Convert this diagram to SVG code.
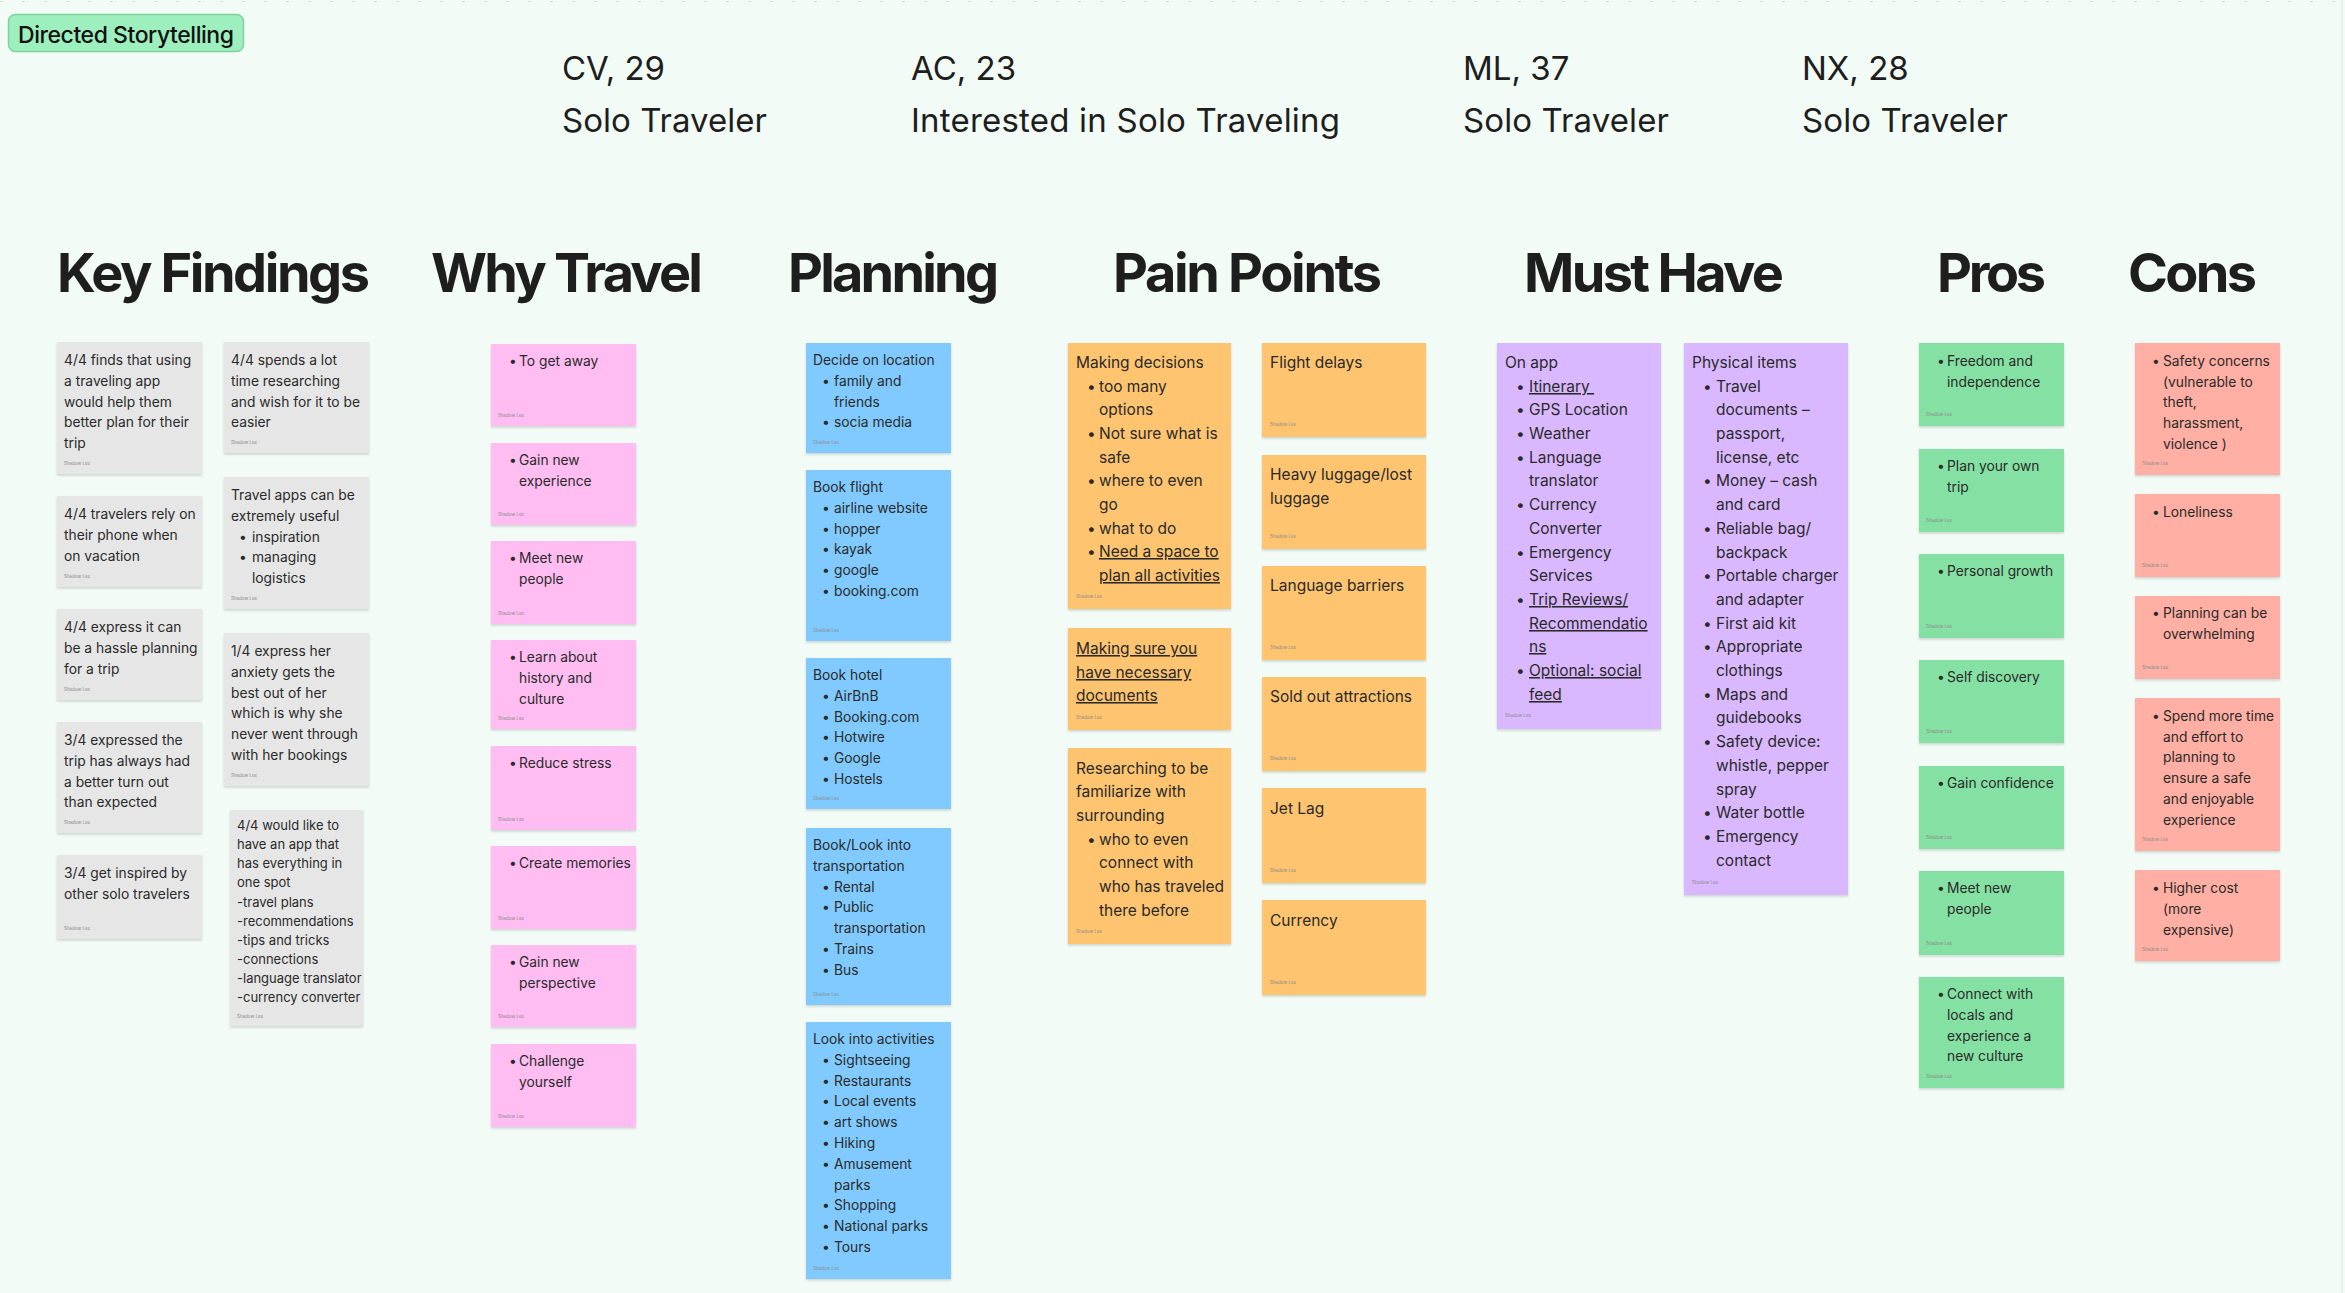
<svg xmlns="http://www.w3.org/2000/svg" width="2345" height="1293" viewBox="0 0 2345 1293">
<defs>
<filter id="sh" x="-10%" y="-10%" width="120%" height="130%"><feDropShadow dx="0" dy="1.5" stdDeviation="1.2" flood-color="#000" flood-opacity="0.16"/></filter>
<style>
.t{font-family:Inter,'Liberation Sans',sans-serif;font-size:13.8px;fill:#2a2a2a}
.m{font-size:15.5px}
.s{font-size:13px}
.u{text-decoration:underline}
.ft{font-family:Inter,'Liberation Sans',sans-serif;font-size:4.5px;fill:#8a8a8a}
.h{font-family:Inter,'Liberation Sans',sans-serif;font-weight:700;font-size:54px;fill:#1e1e1e}
.p{font-family:Inter,'Liberation Sans',sans-serif;font-size:33px;fill:#1e1e1e}
.note rect{filter:url(#sh)}
.gray{fill:#e6e6e6}.pink{fill:#ffbdf2}.blue{fill:#80caff}.orange{fill:#ffc470}.violet{fill:#d9b8ff}.green{fill:#85e0a3}.red{fill:#ffafa3}
</style>
</defs>
<rect width="2345" height="1293" fill="#f2fbf6"/>
<line x1="0" y1="1.5" x2="2345" y2="1.5" stroke="#cfd8d3" stroke-width="1" stroke-dasharray="3 19"/>
<line x1="2342" y1="0" x2="2342" y2="1293" stroke="#dde5e0" stroke-width="1"/>

<g id="label">
<rect x="8.5" y="14.5" width="235" height="37" rx="7" fill="#9def bd" style="fill:#9defbd" stroke="#80d19f" stroke-width="1.5"/>
<text x="18" y="43" font-family="Inter,'Liberation Sans',sans-serif" font-size="23" font-weight="500" fill="#111" textLength="216">Directed Storytelling</text>
</g>

<g id="personas">
<text class="p" x="562" y="80">CV, 29</text>
<text class="p" x="562" y="132" textLength="205">Solo Traveler</text>
<text class="p" x="911" y="80">AC, 23</text>
<text class="p" x="911" y="132" textLength="429">Interested in Solo Traveling</text>
<text class="p" x="1463" y="80">ML, 37</text>
<text class="p" x="1463" y="132" textLength="206">Solo Traveler</text>
<text class="p" x="1802" y="80">NX, 28</text>
<text class="p" x="1802" y="132" textLength="206">Solo Traveler</text>
</g>

<g id="headings">
<text class="h" x="57" y="292" textLength="313">Key Findings</text>
<text class="h" x="431" y="292" textLength="272">Why Travel</text>
<text class="h" x="788" y="292" textLength="211">Planning</text>
<text class="h" x="1113" y="292" textLength="269">Pain Points</text>
<text class="h" x="1524" y="292" textLength="260">Must Have</text>
<text class="h" x="1937" y="292" textLength="109">Pros</text>
<text class="h" x="2128" y="292" textLength="129">Cons</text>
</g>

<!-- Key Findings -->
<g id="kf1" class="note"><rect class="gray" x="57" y="342" width="145" height="132"/>
<text class="t"><tspan x="64" y="365">4/4 finds that using</tspan><tspan x="64" y="386">a traveling app</tspan><tspan x="64" y="407">would help them</tspan><tspan x="64" y="427">better plan for their</tspan><tspan x="64" y="448">trip</tspan></text>
<text class="ft" x="64" y="465">Shadow Lee</text></g>
<g id="kf2" class="note"><rect class="gray" x="57" y="496" width="145" height="91"/>
<text class="t"><tspan x="64" y="519">4/4 travelers rely on</tspan><tspan x="64" y="540">their phone when</tspan><tspan x="64" y="561">on vacation</tspan></text>
<text class="ft" x="64" y="578">Shadow Lee</text></g>
<g id="kf3" class="note"><rect class="gray" x="57" y="609" width="145" height="91"/>
<text class="t"><tspan x="64" y="632">4/4 express it can</tspan><tspan x="64" y="653">be a hassle planning</tspan><tspan x="64" y="674">for a trip</tspan></text>
<text class="ft" x="64" y="691">Shadow Lee</text></g>
<g id="kf4" class="note"><rect class="gray" x="57" y="722" width="145" height="111"/>
<text class="t"><tspan x="64" y="745">3/4 expressed the</tspan><tspan x="64" y="766">trip has always had</tspan><tspan x="64" y="787">a better turn out</tspan><tspan x="64" y="807">than expected</tspan></text>
<text class="ft" x="64" y="824">Shadow Lee</text></g>
<g id="kf5" class="note"><rect class="gray" x="57" y="855" width="145" height="84"/>
<text class="t"><tspan x="64" y="878">3/4 get inspired by</tspan><tspan x="64" y="899">other solo travelers</tspan></text>
<text class="ft" x="64" y="930">Shadow Lee</text></g>
<g id="kf6" class="note"><rect class="gray" x="224" y="342" width="145" height="111"/>
<text class="t"><tspan x="231" y="365">4/4 spends a lot</tspan><tspan x="231" y="386">time researching</tspan><tspan x="231" y="407">and wish for it to be</tspan><tspan x="231" y="427">easier</tspan></text>
<text class="ft" x="231" y="444">Shadow Lee</text></g>
<g id="kf7" class="note"><rect class="gray" x="224" y="477" width="145" height="132"/>
<text class="t"><tspan x="231" y="500">Travel apps can be</tspan><tspan x="231" y="521">extremely useful</tspan><tspan x="239" y="542">•</tspan><tspan x="252">inspiration</tspan><tspan x="239" y="562">•</tspan><tspan x="252">managing</tspan><tspan x="252" y="583">logistics</tspan></text>
<text class="ft" x="231" y="600">Shadow Lee</text></g>
<g id="kf8" class="note"><rect class="gray" x="224" y="633" width="145" height="153"/>
<text class="t"><tspan x="231" y="656">1/4 express her</tspan><tspan x="231" y="677">anxiety gets the</tspan><tspan x="231" y="698">best out of her</tspan><tspan x="231" y="718">which is why she</tspan><tspan x="231" y="739">never went through</tspan><tspan x="231" y="760">with her bookings</tspan></text>
<text class="ft" x="231" y="777">Shadow Lee</text></g>
<g id="kf9" class="note"><rect class="gray" x="230" y="810" width="133" height="216"/>
<text class="t s"><tspan x="237" y="830">4/4 would like to</tspan><tspan x="237" y="849">have an app that</tspan><tspan x="237" y="868">has everything in</tspan><tspan x="237" y="887">one spot</tspan><tspan x="237" y="907">-travel plans</tspan><tspan x="237" y="926">-recommendations</tspan><tspan x="237" y="945">-tips and tricks</tspan><tspan x="237" y="964">-connections</tspan><tspan x="237" y="983">-language translator</tspan><tspan x="237" y="1002">-currency converter</tspan></text>
<text class="ft" x="237" y="1018">Shadow Lee</text></g>

<!-- Why Travel -->
<g id="wt1" class="note"><rect class="pink" x="491" y="344" width="145" height="82"/>
<text class="t"><tspan x="509" y="366">•</tspan><tspan x="519">To get away</tspan></text>
<text class="ft" x="498" y="417">Shadow Lee</text></g>
<g id="wt2" class="note"><rect class="pink" x="491" y="443" width="145" height="82"/>
<text class="t"><tspan x="509" y="465">•</tspan><tspan x="519">Gain new</tspan><tspan x="519" y="486">experience</tspan></text>
<text class="ft" x="498" y="516">Shadow Lee</text></g>
<g id="wt3" class="note"><rect class="pink" x="491" y="541" width="145" height="83"/>
<text class="t"><tspan x="509" y="563">•</tspan><tspan x="519">Meet new</tspan><tspan x="519" y="584">people</tspan></text>
<text class="ft" x="498" y="615">Shadow Lee</text></g>
<g id="wt4" class="note"><rect class="pink" x="491" y="640" width="145" height="89"/>
<text class="t"><tspan x="509" y="662">•</tspan><tspan x="519">Learn about</tspan><tspan x="519" y="683">history and</tspan><tspan x="519" y="704">culture</tspan></text>
<text class="ft" x="498" y="720">Shadow Lee</text></g>
<g id="wt5" class="note"><rect class="pink" x="491" y="746" width="145" height="84"/>
<text class="t"><tspan x="509" y="768">•</tspan><tspan x="519">Reduce stress</tspan></text>
<text class="ft" x="498" y="821">Shadow Lee</text></g>
<g id="wt6" class="note"><rect class="pink" x="491" y="846" width="145" height="83"/>
<text class="t"><tspan x="509" y="868">•</tspan><tspan x="519">Create memories</tspan></text>
<text class="ft" x="498" y="920">Shadow Lee</text></g>
<g id="wt7" class="note"><rect class="pink" x="491" y="945" width="145" height="82"/>
<text class="t"><tspan x="509" y="967">•</tspan><tspan x="519">Gain new</tspan><tspan x="519" y="988">perspective</tspan></text>
<text class="ft" x="498" y="1018">Shadow Lee</text></g>
<g id="wt8" class="note"><rect class="pink" x="491" y="1044" width="145" height="83"/>
<text class="t"><tspan x="509" y="1066">•</tspan><tspan x="519">Challenge</tspan><tspan x="519" y="1087">yourself</tspan></text>
<text class="ft" x="498" y="1118">Shadow Lee</text></g>

<!-- Planning -->
<g id="pl1" class="note"><rect class="blue" x="806" y="343" width="145" height="110"/>
<text class="t"><tspan x="813" y="365">Decide on location</tspan><tspan x="822" y="386">•</tspan><tspan x="834">family and</tspan><tspan x="834" y="407">friends</tspan><tspan x="822" y="427">•</tspan><tspan x="834">socia media</tspan></text>
<text class="ft" x="813" y="444">Shadow Lee</text></g>
<g id="pl2" class="note"><rect class="blue" x="806" y="470" width="145" height="171"/>
<text class="t"><tspan x="813" y="492">Book flight</tspan><tspan x="822" y="513">•</tspan><tspan x="834">airline website</tspan><tspan x="822" y="534">•</tspan><tspan x="834">hopper</tspan><tspan x="822" y="554">•</tspan><tspan x="834">kayak</tspan><tspan x="822" y="575">•</tspan><tspan x="834">google</tspan><tspan x="822" y="596">•</tspan><tspan x="834">booking.com</tspan></text>
<text class="ft" x="813" y="632">Shadow Lee</text></g>
<g id="pl3" class="note"><rect class="blue" x="806" y="658" width="145" height="151"/>
<text class="t"><tspan x="813" y="680">Book hotel</tspan><tspan x="822" y="701">•</tspan><tspan x="834">AirBnB</tspan><tspan x="822" y="722">•</tspan><tspan x="834">Booking.com</tspan><tspan x="822" y="742">•</tspan><tspan x="834">Hotwire</tspan><tspan x="822" y="763">•</tspan><tspan x="834">Google</tspan><tspan x="822" y="784">•</tspan><tspan x="834">Hostels</tspan></text>
<text class="ft" x="813" y="800">Shadow Lee</text></g>
<g id="pl4" class="note"><rect class="blue" x="806" y="828" width="145" height="177"/>
<text class="t"><tspan x="813" y="850">Book/Look into</tspan><tspan x="813" y="871">transportation</tspan><tspan x="822" y="892">•</tspan><tspan x="834">Rental</tspan><tspan x="822" y="912">•</tspan><tspan x="834">Public</tspan><tspan x="834" y="933">transportation</tspan><tspan x="822" y="954">•</tspan><tspan x="834">Trains</tspan><tspan x="822" y="975">•</tspan><tspan x="834">Bus</tspan></text>
<text class="ft" x="813" y="996">Shadow Lee</text></g>
<g id="pl5" class="note"><rect class="blue" x="806" y="1022" width="145" height="257"/>
<text class="t"><tspan x="813" y="1044">Look into activities</tspan><tspan x="822" y="1065">•</tspan><tspan x="834">Sightseeing</tspan><tspan x="822" y="1086">•</tspan><tspan x="834">Restaurants</tspan><tspan x="822" y="1106">•</tspan><tspan x="834">Local events</tspan><tspan x="822" y="1127">•</tspan><tspan x="834">art shows</tspan><tspan x="822" y="1148">•</tspan><tspan x="834">Hiking</tspan><tspan x="822" y="1169">•</tspan><tspan x="834">Amusement</tspan><tspan x="834" y="1190">parks</tspan><tspan x="822" y="1210">•</tspan><tspan x="834">Shopping</tspan><tspan x="822" y="1231">•</tspan><tspan x="834">National parks</tspan><tspan x="822" y="1252">•</tspan><tspan x="834">Tours</tspan></text>
<text class="ft" x="813" y="1270">Shadow Lee</text></g>

<!-- Pain Points -->
<g id="pp1" class="note"><rect class="orange" x="1068" y="343" width="163" height="266"/>
<text class="t m"><tspan x="1076" y="368">Making decisions</tspan><tspan x="1087" y="392">•</tspan><tspan x="1099">too many</tspan><tspan x="1099" y="415">options</tspan><tspan x="1087" y="439">•</tspan><tspan x="1099">Not sure what is</tspan><tspan x="1099" y="463">safe</tspan><tspan x="1087" y="486">•</tspan><tspan x="1099">where to even</tspan><tspan x="1099" y="510">go</tspan><tspan x="1087" y="534">•</tspan><tspan x="1099">what to do</tspan><tspan x="1087" y="557">•</tspan><tspan x="1099" class="u">Need a space to</tspan><tspan x="1099" y="581" class="u">plan all activities</tspan></text>
<text class="ft" x="1076" y="598">Shadow Lee</text></g>
<g id="pp2" class="note"><rect class="orange" x="1068" y="628" width="163" height="102"/>
<text class="t m u"><tspan x="1076" y="654">Making sure you</tspan><tspan x="1076" y="678">have necessary</tspan><tspan x="1076" y="701">documents</tspan></text>
<text class="ft" x="1076" y="719">Shadow Lee</text></g>
<g id="pp3" class="note"><rect class="orange" x="1068" y="748" width="163" height="196"/>
<text class="t m"><tspan x="1076" y="774">Researching to be</tspan><tspan x="1076" y="797">familiarize with</tspan><tspan x="1076" y="821">surrounding</tspan><tspan x="1087" y="845">•</tspan><tspan x="1099">who to even</tspan><tspan x="1099" y="868">connect with</tspan><tspan x="1099" y="892">who has traveled</tspan><tspan x="1099" y="916">there before</tspan></text>
<text class="ft" x="1076" y="933">Shadow Lee</text></g>
<g id="pp4" class="note"><rect class="orange" x="1262" y="343" width="164" height="94"/>
<text class="t m" x="1270" y="368">Flight delays</text>
<text class="ft" x="1270" y="426">Shadow Lee</text></g>
<g id="pp5" class="note"><rect class="orange" x="1262" y="455" width="164" height="94"/>
<text class="t m"><tspan x="1270" y="480">Heavy luggage/lost</tspan><tspan x="1270" y="504">luggage</tspan></text>
<text class="ft" x="1270" y="538">Shadow Lee</text></g>
<g id="pp6" class="note"><rect class="orange" x="1262" y="566" width="164" height="94"/>
<text class="t m" x="1270" y="591">Language barriers</text>
<text class="ft" x="1270" y="649">Shadow Lee</text></g>
<g id="pp7" class="note"><rect class="orange" x="1262" y="677" width="164" height="94"/>
<text class="t m" x="1270" y="702">Sold out attractions</text>
<text class="ft" x="1270" y="760">Shadow Lee</text></g>
<g id="pp8" class="note"><rect class="orange" x="1262" y="788" width="164" height="95"/>
<text class="t m" x="1270" y="814">Jet Lag</text>
<text class="ft" x="1270" y="872">Shadow Lee</text></g>
<g id="pp9" class="note"><rect class="orange" x="1262" y="900" width="164" height="95"/>
<text class="t m" x="1270" y="926">Currency</text>
<text class="ft" x="1270" y="984">Shadow Lee</text></g>

<!-- Must Have -->
<g id="mh1" class="note"><rect class="violet" x="1497" y="343" width="164" height="386"/>
<text class="t m"><tspan x="1505" y="368">On app</tspan><tspan x="1516" y="392">•</tspan><tspan x="1529" class="u">Itinerary </tspan><tspan x="1516" y="415">•</tspan><tspan x="1529">GPS Location</tspan><tspan x="1516" y="439">•</tspan><tspan x="1529">Weather</tspan><tspan x="1516" y="463">•</tspan><tspan x="1529">Language</tspan><tspan x="1529" y="486">translator</tspan><tspan x="1516" y="510">•</tspan><tspan x="1529">Currency</tspan><tspan x="1529" y="534">Converter</tspan><tspan x="1516" y="558">•</tspan><tspan x="1529">Emergency</tspan><tspan x="1529" y="581">Services</tspan><tspan x="1516" y="605">•</tspan><tspan x="1529" class="u">Trip Reviews/</tspan><tspan x="1529" y="629" class="u">Recommendatio</tspan><tspan x="1529" y="652" class="u">ns</tspan><tspan x="1516" y="676">•</tspan><tspan x="1529" class="u">Optional: social</tspan><tspan x="1529" y="700" class="u">feed</tspan></text>
<text class="ft" x="1505" y="717">Shadow Lee</text></g>
<g id="mh2" class="note"><rect class="violet" x="1684" y="343" width="164" height="552"/>
<text class="t m"><tspan x="1692" y="368">Physical items</tspan><tspan x="1703" y="392">•</tspan><tspan x="1716">Travel</tspan><tspan x="1716" y="415">documents –</tspan><tspan x="1716" y="439">passport,</tspan><tspan x="1716" y="463">license, etc</tspan><tspan x="1703" y="486">•</tspan><tspan x="1716">Money – cash</tspan><tspan x="1716" y="510">and card</tspan><tspan x="1703" y="534">•</tspan><tspan x="1716">Reliable bag/</tspan><tspan x="1716" y="558">backpack</tspan><tspan x="1703" y="581">•</tspan><tspan x="1716">Portable charger</tspan><tspan x="1716" y="605">and adapter</tspan><tspan x="1703" y="629">•</tspan><tspan x="1716">First aid kit</tspan><tspan x="1703" y="652">•</tspan><tspan x="1716">Appropriate</tspan><tspan x="1716" y="676">clothings</tspan><tspan x="1703" y="700">•</tspan><tspan x="1716">Maps and</tspan><tspan x="1716" y="723">guidebooks</tspan><tspan x="1703" y="747">•</tspan><tspan x="1716">Safety device:</tspan><tspan x="1716" y="771">whistle, pepper</tspan><tspan x="1716" y="795">spray</tspan><tspan x="1703" y="818">•</tspan><tspan x="1716">Water bottle</tspan><tspan x="1703" y="842">•</tspan><tspan x="1716">Emergency</tspan><tspan x="1716" y="866">contact</tspan></text>
<text class="ft" x="1692" y="884">Shadow Lee</text></g>

<!-- Pros -->
<g id="pr1" class="note"><rect class="green" x="1919" y="343" width="145" height="83"/>
<text class="t"><tspan x="1937" y="366">•</tspan><tspan x="1947">Freedom and</tspan><tspan x="1947" y="387">independence</tspan></text>
<text class="ft" x="1926" y="416">Shadow Lee</text></g>
<g id="pr2" class="note"><rect class="green" x="1919" y="449" width="145" height="83"/>
<text class="t"><tspan x="1937" y="471">•</tspan><tspan x="1947">Plan your own</tspan><tspan x="1947" y="492">trip</tspan></text>
<text class="ft" x="1926" y="522">Shadow Lee</text></g>
<g id="pr3" class="note"><rect class="green" x="1919" y="554" width="145" height="84"/>
<text class="t"><tspan x="1937" y="576">•</tspan><tspan x="1947">Personal growth</tspan></text>
<text class="ft" x="1926" y="628">Shadow Lee</text></g>
<g id="pr4" class="note"><rect class="green" x="1919" y="660" width="145" height="83"/>
<text class="t"><tspan x="1937" y="682">•</tspan><tspan x="1947">Self discovery</tspan></text>
<text class="ft" x="1926" y="733">Shadow Lee</text></g>
<g id="pr5" class="note"><rect class="green" x="1919" y="766" width="145" height="83"/>
<text class="t"><tspan x="1937" y="788">•</tspan><tspan x="1947">Gain confidence</tspan></text>
<text class="ft" x="1926" y="839">Shadow Lee</text></g>
<g id="pr6" class="note"><rect class="green" x="1919" y="871" width="145" height="84"/>
<text class="t"><tspan x="1937" y="893">•</tspan><tspan x="1947">Meet new</tspan><tspan x="1947" y="914">people</tspan></text>
<text class="ft" x="1926" y="945">Shadow Lee</text></g>
<g id="pr7" class="note"><rect class="green" x="1919" y="977" width="145" height="111"/>
<text class="t"><tspan x="1937" y="999">•</tspan><tspan x="1947">Connect with</tspan><tspan x="1947" y="1020">locals and</tspan><tspan x="1947" y="1041">experience a</tspan><tspan x="1947" y="1061">new culture</tspan></text>
<text class="ft" x="1926" y="1078">Shadow Lee</text></g>

<!-- Cons -->
<g id="cn1" class="note"><rect class="red" x="2135" y="343" width="145" height="132"/>
<text class="t"><tspan x="2152" y="366">•</tspan><tspan x="2163">Safety concerns</tspan><tspan x="2163" y="387">(vulnerable to</tspan><tspan x="2163" y="407">theft,</tspan><tspan x="2163" y="428">harassment,</tspan><tspan x="2163" y="449">violence )</tspan></text>
<text class="ft" x="2142" y="465">Shadow Lee</text></g>
<g id="cn2" class="note"><rect class="red" x="2135" y="494" width="145" height="83"/>
<text class="t"><tspan x="2152" y="517">•</tspan><tspan x="2163">Loneliness</tspan></text>
<text class="ft" x="2142" y="567">Shadow Lee</text></g>
<g id="cn3" class="note"><rect class="red" x="2135" y="596" width="145" height="83"/>
<text class="t"><tspan x="2152" y="618">•</tspan><tspan x="2163">Planning can be</tspan><tspan x="2163" y="639">overwhelming</tspan></text>
<text class="ft" x="2142" y="669">Shadow Lee</text></g>
<g id="cn4" class="note"><rect class="red" x="2135" y="698" width="145" height="153"/>
<text class="t"><tspan x="2152" y="721">•</tspan><tspan x="2163">Spend more time</tspan><tspan x="2163" y="742">and effort to</tspan><tspan x="2163" y="762">planning to</tspan><tspan x="2163" y="783">ensure a safe</tspan><tspan x="2163" y="804">and enjoyable</tspan><tspan x="2163" y="825">experience</tspan></text>
<text class="ft" x="2142" y="841">Shadow Lee</text></g>
<g id="cn5" class="note"><rect class="red" x="2135" y="870" width="145" height="91"/>
<text class="t"><tspan x="2152" y="893">•</tspan><tspan x="2163">Higher cost</tspan><tspan x="2163" y="914">(more</tspan><tspan x="2163" y="935">expensive)</tspan></text>
<text class="ft" x="2142" y="951">Shadow Lee</text></g>

<g id="connectors"></g>
</svg>
